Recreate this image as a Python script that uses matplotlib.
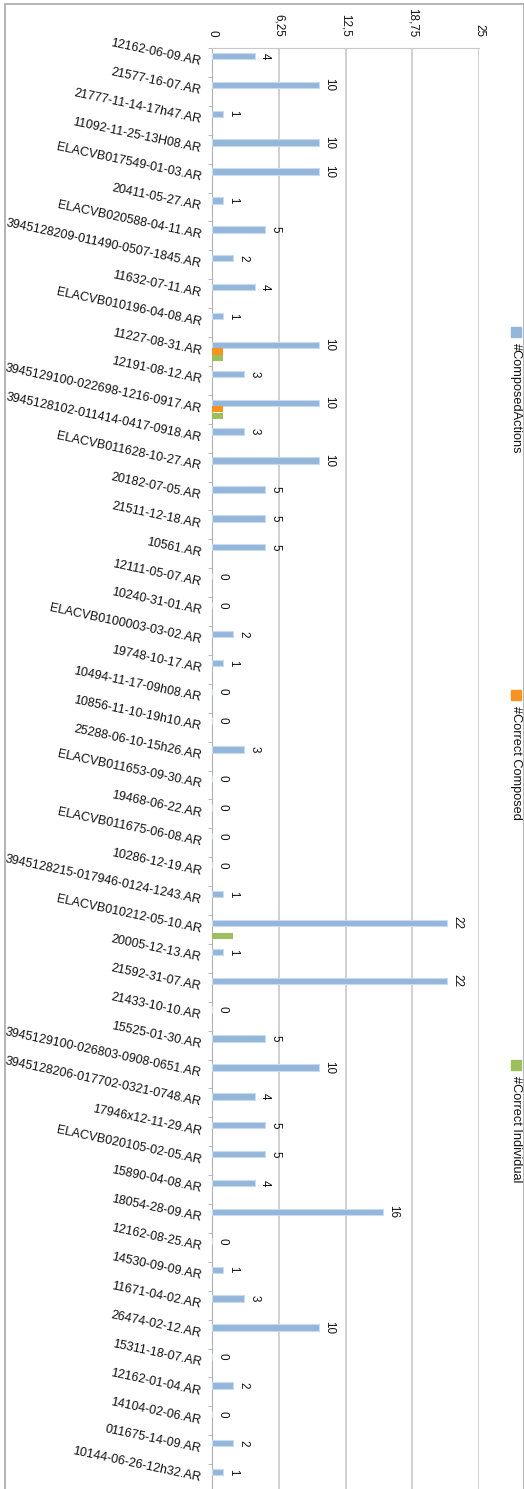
import numpy as np
import matplotlib
matplotlib.use("Agg")
import matplotlib.pyplot as plt
from matplotlib.patches import Rectangle

plt.rcParams['font.family'] = ['Liberation Sans', 'DejaVu Sans']

files = [
    "12162-06-09.AR", "21577-16-07.AR", "21777-11-14-17h47.AR", "11092-11-25-13H08.AR",
    "ELACVB017549-01-03.AR", "20411-05-27.AR", "ELACVB020588-04-11.AR",
    "3945128209-011490-0507-1845.AR", "11632-07-11.AR", "ELACVB010196-04-08.AR",
    "11227-08-31.AR", "12191-08-12.AR", "3945129100-022698-1216-0917.AR",
    "3945128102-011414-0417-0918.AR", "ELACVB011628-10-27.AR", "20182-07-05.AR",
    "21511-12-18.AR", "10561.AR", "12111-05-07.AR", "10240-31-01.AR",
    "ELACVB0100003-03-02.AR", "19748-10-17.AR", "10494-11-17-09h08.AR",
    "10856-11-10-19h10.AR", "25288-06-10-15h26.AR", "ELACVB011653-09-30.AR",
    "19468-06-22.AR", "ELACVB011675-06-08.AR", "10286-12-19.AR",
    "3945128215-017946-0124-1243.AR", "ELACVB010212-05-10.AR", "20005-12-13.AR",
    "21592-31-07.AR", "21433-10-10.AR", "15525-01-30.AR",
    "3945129100-026803-0908-0651.AR", "3945128206-017702-0321-0748.AR",
    "17946x12-11-29.AR", "ELACVB020105-02-05.AR", "15890-04-08.AR",
    "18054-28-09.AR", "12162-08-25.AR", "14530-09-09.AR", "11671-04-02.AR",
    "26474-02-12.AR", "15311-18-07.AR", "12162-01-04.AR", "14104-02-06.AR",
    "011675-14-09.AR", "10144-06-26-12h32.AR",
]
composed_actions = [4, 10, 1, 10, 10, 1, 5, 2, 4, 1,
                    10, 3, 10, 3, 10, 5, 5, 5, 0, 0,
                    2, 1, 0, 0, 3, 0, 0, 0, 0, 1,
                    22, 1, 22, 0, 5, 10, 4, 5, 5, 4,
                    16, 0, 1, 3, 10, 0, 2, 0, 2, 1]
correct_composed = [0] * 50
correct_composed[10] = 1
correct_composed[12] = 1
correct_individual = [0] * 50
correct_individual[10] = 1
correct_individual[12] = 1
correct_individual[30] = 2

x_ticks = [0, 6.25, 12.5, 18.75, 25]
x_tick_labels = ["0", "6,25", "12,5", "18,75", "25"]
series_names = ["#ComposedActions", "#Correct Composed", "#Correct Individual"]
colors = ["#93b6da", "#f7931e", "#9dbf5b"]

W, H = 524, 1489
fig = plt.figure(figsize=(W / 100, H / 100), dpi=100)

# axes placed in pixel terms of the reference
left, right, top, bottom = 212, 479, 48, 1493
ax = fig.add_axes([left / W, 1 - bottom / H, (right - left) / W, (bottom - top) / H])

pos = np.arange(len(files))
bh = 0.22
ax.barh(pos - 0.225, composed_actions, height=bh, color=colors[0],
        edgecolor="#c9dbee", linewidth=0.8, zorder=3)
ax.barh(pos, correct_composed, height=bh, color=colors[1], zorder=3)
ax.barh(pos + 0.225, correct_individual, height=bh, color=colors[2], zorder=3)

for p, v in zip(pos, composed_actions):
    ax.annotate(str(v), (v, p - 0.225), xytext=(3, 0), textcoords="offset points",
                ha="left", va="center", rotation=-90, fontsize=8.4, color="#111111")

ax.set_xlim(0, 25)
ax.set_ylim(len(files) - 0.5, -0.5)

ax.xaxis.tick_top()
ax.set_xticks(x_ticks)
ax.set_xticklabels(x_tick_labels, rotation=-90, fontsize=8.4, color="#111111")
ax.tick_params(axis="x", length=0, pad=8)
ax.grid(axis="x", color="#c8c8c8", linewidth=1.2, zorder=0)

ax.set_yticks(pos)
ax.set_yticklabels(files, rotation=-12, ha="right", va="center",
                   rotation_mode="anchor", fontsize=9, color="#111111")
ax.set_yticks(np.arange(len(files) + 1) - 0.5, minor=True)
ax.tick_params(axis="y", which="major", length=0, pad=8)
ax.tick_params(axis="y", which="minor", length=3, color="#b0b0b0")

for s in ["right", "bottom"]:
    ax.spines[s].set_visible(False)
ax.spines["left"].set_color("#b0b0b0")
ax.spines["top"].set_color("#c8c8c8")

# legend drawn rotated along the right side
legend_y = [327, 690, 1060]
for name, col, y in zip(series_names, colors, legend_y):
    fig.patches.append(Rectangle((511 / W, 1 - (y + 10) / H), 10 / W, 10 / H,
                                 transform=fig.transFigure, color=col))
    fig.text(516 / W, 1 - (y + 16) / H, name, rotation=-90, ha="center", va="top",
             fontsize=9.2, color="#111111")

# outer frame
fig.patches.append(Rectangle((5 / W, -0.01), (W - 5.5) / W, 1.01 - 4 / H,
                             transform=fig.transFigure, fill=False,
                             edgecolor="#a8a8a8", linewidth=1.2))

fig.savefig("out.png", dpi=100)
